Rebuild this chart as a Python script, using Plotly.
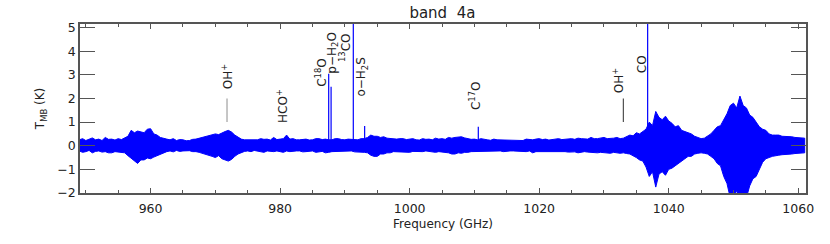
import plotly.graph_objects as go

# Noise envelope of the spectrum, read at 0.5 GHz steps from 949 to 1061 GHz (K)
freq_env = [949 + 0.5 * i for i in range(225)]
env_hi = [0.25, 0.30, 0.22, 0.28, 0.33, 0.25, 0.28, 0.22, 0.35, 0.27,
          0.28, 0.24, 0.30, 0.26, 0.32, 0.40, 0.65, 0.55, 0.62, 0.58,
          0.55, 0.70, 0.72, 0.50, 0.45, 0.35, 0.30, 0.28, 0.25, 0.30,
          0.22, 0.26, 0.25, 0.21, 0.22, 0.27, 0.28, 0.32, 0.35, 0.40,
          0.42, 0.48, 0.50, 0.47, 0.55, 0.60, 0.65, 0.58, 0.45, 0.38,
          0.28, 0.25, 0.25, 0.22, 0.22, 0.25, 0.30, 0.27, 0.28, 0.24,
          0.35, 0.26, 0.28, 0.30, 0.45, 0.28, 0.30, 0.25, 0.25, 0.28,
          0.28, 0.24, 0.25, 0.30, 0.30, 0.26, 0.28, 0.25, 0.25, 0.30,
          0.30, 0.26, 0.25, 0.28, 0.28, 0.25, 0.25, 0.30, 0.30, 0.35,
          0.45, 0.40, 0.40, 0.35, 0.38, 0.32, 0.30, 0.28, 0.28, 0.30,
          0.30, 0.26, 0.28, 0.30, 0.25, 0.24, 0.30, 0.27, 0.28, 0.25,
          0.32, 0.28, 0.30, 0.27, 0.35, 0.32, 0.35, 0.38, 0.38, 0.33,
          0.30, 0.27, 0.28, 0.25, 0.30, 0.26, 0.25, 0.23, 0.28, 0.25,
          0.25, 0.22, 0.25, 0.24, 0.22, 0.25, 0.25, 0.22, 0.28, 0.25,
          0.25, 0.28, 0.30, 0.26, 0.28, 0.24, 0.25, 0.27, 0.30, 0.26,
          0.28, 0.30, 0.30, 0.27, 0.32, 0.30, 0.30, 0.28, 0.35, 0.30,
          0.30, 0.33, 0.35, 0.30, 0.30, 0.32, 0.35, 0.30, 0.32, 0.38,
          0.45, 0.42, 0.55, 0.50, 0.60, 0.70, 1.00, 0.85, 1.45, 1.20,
          1.10, 1.25, 1.05, 0.95, 0.80, 0.85, 0.65, 0.60, 0.55, 0.50,
          0.40, 0.35, 0.30, 0.32, 0.40, 0.50, 0.65, 0.80, 0.85, 1.10,
          1.35, 1.70, 1.80, 1.60, 2.10, 1.70, 1.60, 1.30, 1.20, 1.00,
          0.80, 0.70, 0.65, 0.50, 0.45, 0.45, 0.45, 0.40, 0.40, 0.38,
          0.38, 0.35, 0.35, 0.33, 0.32]
env_lo = [-0.22, -0.28, -0.25, -0.20, -0.30, -0.24, -0.22, -0.27, -0.25, -0.30,
          -0.30, -0.25, -0.24, -0.28, -0.30, -0.42, -0.55, -0.65, -0.75, -0.60,
          -0.60, -0.52, -0.55, -0.48, -0.40, -0.35, -0.30, -0.25, -0.22, -0.26,
          -0.20, -0.24, -0.22, -0.20, -0.21, -0.25, -0.25, -0.28, -0.30, -0.35,
          -0.40, -0.45, -0.50, -0.42, -0.55, -0.60, -0.65, -0.58, -0.45, -0.35,
          -0.28, -0.24, -0.22, -0.25, -0.20, -0.22, -0.25, -0.28, -0.22, -0.25,
          -0.25, -0.22, -0.25, -0.28, -0.22, -0.25, -0.25, -0.22, -0.22, -0.26,
          -0.25, -0.22, -0.22, -0.28, -0.25, -0.24, -0.30, -0.28, -0.25, -0.22,
          -0.22, -0.25, -0.25, -0.22, -0.22, -0.26, -0.25, -0.28, -0.28, -0.30,
          -0.40, -0.45, -0.45, -0.35, -0.35, -0.30, -0.30, -0.25, -0.25, -0.28,
          -0.25, -0.28, -0.28, -0.24, -0.22, -0.25, -0.25, -0.22, -0.25, -0.26,
          -0.28, -0.25, -0.25, -0.28, -0.30, -0.35, -0.35, -0.30, -0.32, -0.28,
          -0.28, -0.25, -0.25, -0.22, -0.25, -0.23, -0.22, -0.24, -0.25, -0.22,
          -0.22, -0.25, -0.25, -0.22, -0.22, -0.20, -0.22, -0.24, -0.25, -0.22,
          -0.30, -0.25, -0.25, -0.22, -0.22, -0.25, -0.25, -0.22, -0.22, -0.25,
          -0.25, -0.27, -0.28, -0.26, -0.30, -0.28, -0.25, -0.27, -0.28, -0.30,
          -0.30, -0.28, -0.28, -0.30, -0.32, -0.28, -0.30, -0.32, -0.30, -0.33,
          -0.35, -0.42, -0.50, -0.60, -0.65, -0.90, -1.30, -1.10, -1.75, -1.20,
          -1.10, -1.25, -1.00, -0.95, -0.85, -0.75, -0.65, -0.55, -0.45, -0.45,
          -0.35, -0.32, -0.30, -0.32, -0.35, -0.45, -0.55, -0.75, -0.85, -1.30,
          -1.60, -2.20, -2.20, -1.90, -2.20, -2.20, -2.20, -1.70, -1.40, -1.30,
          -1.00, -0.70, -0.55, -0.50, -0.45, -0.42, -0.40, -0.38, -0.38, -0.35,
          -0.35, -0.33, -0.32, -0.30, -0.30]

# Emission line peaks
line_freq = [987.5, 987.87, 991.3, 993.05, 1010.6, 1036.75]
line_peak = [3.05, 2.5, 5.5, 0.83, 0.8, 5.5]

# OH+ marker bars
mark_freq = [971.8, 1033.0]
mark_y0 = [1.0, 1.0]
mark_y1 = [2.0, 2.0]
mark_col = ["#a0a0a0", "#505050"]

# Species labels
lab_text = ["OH<sup>+</sup>", "HCO<sup>+</sup>", "C<sup>18</sup>O", "p\u2212H<sub>2</sub>O",
            "<sup>13</sup>CO", "o\u2212H<sub>2</sub>S", "C<sup>17</sup>O", "OH<sup>+</sup>", "CO"]
lab_freq = [971.8, 980.2, 986.4, 988.1, 990.0, 992.7, 1010.0, 1032.3, 1035.8]
lab_y = [2.94, 1.70, 3.11, 3.92, 4.17, 2.90, 2.12, 2.76, 3.43]

FONT = "DejaVu Sans"
BLUE = "#0000ff"

fig = go.Figure()
fig.add_trace(go.Scatter(
    x=freq_env + freq_env[::-1], y=env_hi + env_lo[::-1],
    mode="lines", fill="toself", fillcolor=BLUE,
    line=dict(color=BLUE, width=1), hoverinfo="skip", showlegend=False))

for f, p in zip(line_freq, line_peak):
    fig.add_trace(go.Scatter(x=[f, f], y=[0, p], mode="lines",
                             line=dict(color=BLUE, width=1.2), showlegend=False))

for f, a, b, c in zip(mark_freq, mark_y0, mark_y1, mark_col):
    fig.add_trace(go.Scatter(x=[f, f], y=[a, b], mode="lines",
                             line=dict(color=c, width=1.2), showlegend=False))

for t, f, y in zip(lab_text, lab_freq, lab_y):
    fig.add_annotation(x=f, y=y, text=t, textangle=-90, showarrow=False,
                       xanchor="center", yanchor="middle",
                       font=dict(family=FONT, size=12, color="#222"))

axcol = "#555555"
fig.update_layout(
    width=830, height=244,
    margin=dict(l=80, r=24, t=24, b=51, autoexpand=False),
    paper_bgcolor="white", plot_bgcolor="white",
    title=dict(text="band\u00a0\u00a04a", x=0.533, xanchor="center", y=0.948, yanchor="middle",
               font=dict(family=FONT, size=15, color="#222")),
    font=dict(family=FONT, size=12.5, color="#222"),
    xaxis=dict(range=[949.1, 1061.2], tickvals=[960, 980, 1000, 1020, 1040, 1060],
               automargin=False, ticklabelstandoff=3,
               ticks="inside", ticklen=5, tickcolor=axcol, showgrid=False, zeroline=False,
               showline=True, linecolor=axcol, linewidth=1.5, mirror="allticks",
               minor=dict(dtick=5, tick0=950, ticks="inside", ticklen=3, tickcolor=axcol),
               title=dict(text="Frequency (GHz)", standoff=5,
                          font=dict(family=FONT, size=12)),
               tickfont=dict(family=FONT, size=12.5)),
    yaxis=dict(range=[-2.0, 5.15], tickvals=[-2, -1, 0, 1, 2, 3, 4, 5],
               automargin=False,
               ticks="inside", ticklen=15, tickcolor=axcol, showgrid=False, zeroline=False,
               showline=True, linecolor=axcol, linewidth=1.5, mirror="allticks",
               title=dict(text="T<sub>MB</sub> (K)", standoff=10,
                          font=dict(family=FONT, size=12)),
               tickfont=dict(family=FONT, size=12.5)),
)

fig.write_html("out.html", config={"displayModeBar": False},
               post_script="document.body.style.margin='0';document.body.style.overflow='hidden';")
